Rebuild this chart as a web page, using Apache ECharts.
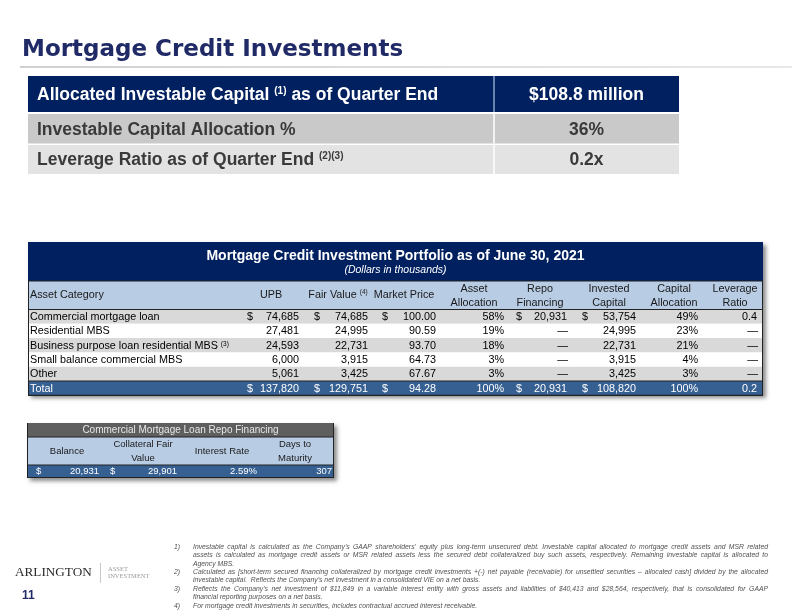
<!DOCTYPE html>
<html>
<head>
<meta charset="utf-8">
<script src="https://cdn.jsdelivr.net/npm/echarts@6/dist/echarts.min.js"></script>
<style>
  html, body { margin: 0; padding: 0; background: #fff; }
  #chart { width: 792px; height: 612px; }
</style>
</head>
<body>
<div id="chart"></div>
<script>
// ---- data ----
const pageTitle = 'Mortgage Credit Investments'

const summaryLabels = [
  'Allocated Investable Capital {s|(1)} as of Quarter End',
  'Investable Capital Allocation %',
  'Leverage Ratio as of Quarter End {s|(2)(3)}'
]
const summaryValues = ['$108.8 million', '36%', '0.2x']

const portfolioTitle = 'Mortgage Credit Investment Portfolio as of June 30, 2021'
const portfolioSubtitle = '(Dollars in thousands)'
const portfolioColumns = ['Asset Category', 'UPB', 'Fair Value {s|(4)}', 'Market Price', 'Asset\nAllocation',
  'Repo\nFinancing', 'Invested\nCapital', 'Capital\nAllocation', 'Leverage\nRatio']
const assetCategories = ['Commercial mortgage loan', 'Residential MBS', 'Business purpose loan residential MBS {s|(3)}',
  'Small balance commercial MBS', 'Other', 'Total']
const upb = [74685, 27481, 24593, 6000, 5061, 137820]
const fairValue = [74685, 24995, 22731, 3915, 3425, 129751]
const marketPrice = [100.00, 90.59, 93.70, 64.73, 67.67, 94.28]
const assetAllocation = [58, 19, 18, 3, 3, 100]
const repoFinancing = [20931, null, null, null, null, 20931]
const investedCapital = [53754, 24995, 22731, 3915, 3425, 108820]
const capitalAllocation = [49, 23, 21, 4, 3, 100]
const leverageRatio = [0.4, null, null, null, null, 0.2]

const repoTitle = 'Commercial Mortgage Loan Repo Financing'
const repoColumns = ['Balance', 'Collateral Fair\nValue', 'Interest Rate', 'Days to\nMaturity']
const repoBalance = [20931]
const repoCollateral = [29901]
const repoRate = [2.59]
const repoDays = [307]

const footnoteNumbers = ['1)', '2)', '3)', '4)']
const footnoteLines = [
  ['Investable capital is calculated as the Company\u2019s GAAP shareholders\u2019 equity plus long-term unsecured debt. Investable capital allocated to mortgage credit assets and MSR related',
   'assets  is calculated as mortgage credit assets or MSR related assets less the secured debt collateralized buy such assets, respectively.  Remaining investable capital is allocated to',
   'Agency MBS.'],
  ['Calculated as [short-term secured financing collateralized by mortgage credit investments +(-) net payable (receivable) for unsettled securities \u2013 allocated cash] divided by the allocated',
   'investable capital.  Reflects the Company\u2019s net investment in a consolidated VIE on a net basis.'],
  ['Reflects the Company\u2019s net investment of $11,849 in a variable interest entity with gross assets and liabilities of $40,413 and $28,564, respectively, that is consolidated for GAAP',
   'financial reporting purposes on a net basis.'],
  ['For mortgage credit investments in securities, includes contractual accrued interest receivable.']
]

// ---- helpers ----
const FONT = '"Liberation Sans", Arial, sans-serif'
const NAVY = '#002060'
const LIGHT_BLUE = '#b8cce4'
const STEEL = '#366092'
const g = []

const fmt = (v, d) => v.toFixed(d || 0).replace(/\B(?=(\d{3})+(?!\d))/g, ',')

function rect(x, y, w, h, fill, style) {
  g.push({ type: 'rect', silent: true, shape: { x, y, width: w, height: h }, style: Object.assign({ fill }, style || {}) })
}
function line(x1, y1, x2, y2, stroke, lw) {
  g.push({ type: 'line', silent: true, shape: { x1, y1, x2, y2 }, style: { stroke, lineWidth: lw || 1 } })
}
function text(x, y, str, opt) {
  g.push({ type: 'text', silent: true, x, y, style: Object.assign({
    text: str, fontFamily: FONT, fontSize: 11, fill: '#000', align: 'left', verticalAlign: 'middle'
  }, opt || {}) })
}
const supRich = size => ({ s: { fontSize: size, verticalAlign: 'top', fontFamily: FONT } })
const shadow = { shadowBlur: 4, shadowOffsetX: 3, shadowOffsetY: 3, shadowColor: 'rgba(0,0,0,0.45)' }

// ---- page title ----
text(22, 50, pageTitle, { fontFamily: '"DejaVu Sans", Verdana, sans-serif', fontWeight: 'bold', fontSize: 23, fill: '#1f2a66' })
rect(20, 66, 772, 2, new echarts.graphic.LinearGradient(0, 0, 1, 0, [
  { offset: 0, color: '#d0d0d0' }, { offset: 1, color: '#e8e8e8' }]))

// ---- summary table ----
const sumX = 28, sumW = 651, sumDiv = 494
const sumRows = [[76, 36, NAVY, '#fff'], [114, 29.5, '#c9c9c9', '#3a3a3a'], [145, 29, '#e3e3e3', '#3a3a3a']]
sumRows.forEach(([y, h, fill, color], i) => {
  rect(sumX, y, sumW, h, fill)
  line(sumDiv, y, sumDiv, y + h, i === 0 ? '#8ea4c8' : '#fff', 1.5)
  text(37, y + h / 2 + 1, summaryLabels[i], { fontWeight: 'bold', fontSize: 17.5, fill: color, rich: { s: { fontSize: 10, fontWeight: 'bold', verticalAlign: 'top', fill: color, fontFamily: FONT } } })
  text((sumDiv + sumX + sumW) / 2, y + h / 2 + 1, summaryValues[i], { fontWeight: 'bold', fontSize: 17.5, fill: color, align: 'center' })
})

// ---- portfolio table ----
const pX = 28, pW = 735
const titleTop = 242, headTop = 281, headH = 28.5, rowTop = 309.5, rowH = 14.3
const nRows = assetCategories.length
const tableBottom = rowTop + rowH * nRows

rect(pX, titleTop, pW, tableBottom - titleTop, '#fff', shadow)
rect(pX, titleTop, pW, headTop - titleTop, NAVY)
text(pX + pW / 2, 256, portfolioTitle, { fontWeight: 'bold', fontSize: 14, fill: '#fff', align: 'center' })
text(pX + pW / 2, 270, portfolioSubtitle, { fontStyle: 'italic', fontSize: 10.5, fill: '#fff', align: 'center' })
rect(pX, headTop, pW, headH, LIGHT_BLUE)

// column layout: dollar sign x, right edge, header centre
const cols = [
  { left: 30 },
  { dollar: 247, right: 299, head: 271, values: upb, f: v => fmt(v) },
  { dollar: 314, right: 368, head: 338, values: fairValue, f: v => fmt(v) },
  { dollar: 382, right: 436, head: 404, values: marketPrice, f: v => fmt(v, 2) },
  { right: 504, head: 474, values: assetAllocation, f: v => v + '%' },
  { dollar: 516, right: 567, head: 540, values: repoFinancing, f: v => fmt(v) },
  { dollar: 582, right: 636, head: 609, values: investedCapital, f: v => fmt(v) },
  { right: 698, head: 674, values: capitalAllocation, f: v => v + '%' },
  { right: 757, head: 735, values: leverageRatio, f: v => v.toFixed(1) }
]
const BODY = 10.8

cols.forEach((c, j) => {
  const label = portfolioColumns[j]
  const opt = { fontSize: BODY, fill: '#1a1a1a', rich: supRich(6.5) }
  if (j === 0) text(30, headTop + headH / 2, label, opt)
  else text(c.head, headTop + headH / 2 + (label.includes('\n') ? 0.5 : 0), label, Object.assign(opt, { align: 'center', lineHeight: 14 }))
})

for (let i = 0; i < nRows; i++) {
  const y = rowTop + rowH * i
  const isTotal = i === nRows - 1
  const fill = isTotal ? STEEL : (i % 2 === 0 ? '#d9d9d9' : '#fff')
  rect(pX, y, pW, rowH, fill)
  const color = isTotal ? '#fff' : '#000'
  const cy = y + rowH / 2 + 0.5
  text(30, cy, assetCategories[i], { fontSize: BODY, fill: color, rich: supRich(6.5) })
  const showDollar = i === 0 || isTotal
  cols.slice(1).forEach(c => {
    const v = c.values[i]
    if (v === null) {
      text(c.right + 1, cy, '\u2014', { fontSize: BODY, fill: color, align: 'right' })
      return
    }
    if (c.dollar && showDollar) text(c.dollar, cy, '$', { fontSize: BODY, fill: color })
    text(c.right, cy, c.f(v), { fontSize: BODY, fill: color, align: 'right' })
  })
}
// table rules
line(pX, rowTop, pX + pW, rowTop, '#222', 1.2)
line(pX, rowTop + rowH * (nRows - 1), pX + pW, rowTop + rowH * (nRows - 1), '#222', 1.2)
line(pX, tableBottom, pX + pW, tableBottom, '#222', 1.2)
line(pX, headTop, pX + pW, headTop, '#222', 1)
line(pX + 0.5, headTop, pX + 0.5, tableBottom, '#222', 1)
line(pX + pW - 0.5, headTop, pX + pW - 0.5, tableBottom, '#222', 1)

// ---- repo financing table ----
const rX = 27, rW = 307
const rTitleTop = 423, rHeadTop = 437, rHeadH = 28, rDataH = 12.5
const rBottom = rHeadTop + rHeadH + rDataH
rect(rX, rTitleTop, rW, rBottom - rTitleTop, '#fff', shadow)
rect(rX, rTitleTop, rW, rHeadTop - rTitleTop, '#5f5f5f')
text(rX + rW / 2, (rTitleTop + rHeadTop) / 2 + 0.5, repoTitle, { fontSize: 10, fill: '#e8e8e8', align: 'center' })
rect(rX, rHeadTop, rW, rHeadH, LIGHT_BLUE)
rect(rX, rHeadTop + rHeadH, rW, rDataH, STEEL)
line(rX, rHeadTop, rX + rW, rHeadTop, '#222', 1)
line(rX, rHeadTop + rHeadH, rX + rW, rHeadTop + rHeadH, '#222', 1)
line(rX, rBottom, rX + rW, rBottom, '#222', 1)
line(rX + 0.5, rTitleTop, rX + 0.5, rBottom, '#222', 1)
line(rX + rW - 0.5, rTitleTop, rX + rW - 0.5, rBottom, '#222', 1)

const repoCols = [
  { dollar: 36, right: 99, head: 67, values: repoBalance, f: v => fmt(v) },
  { dollar: 110, right: 177, head: 143, values: repoCollateral, f: v => fmt(v) },
  { right: 257, head: 222, values: repoRate, f: v => v.toFixed(2) + '%' },
  { right: 332, head: 295, values: repoDays, f: v => String(v) }
]
repoCols.forEach((c, j) => {
  text(c.head, rHeadTop + rHeadH / 2 + 0.5, repoColumns[j], { fontSize: 9.5, fill: '#1a1a1a', align: 'center', lineHeight: 14 })
  const cy = rHeadTop + rHeadH + rDataH / 2 + 0.5
  if (c.dollar) text(c.dollar, cy, '$', { fontSize: 9.5, fill: '#fff' })
  text(c.right, cy, c.f(c.values[0]), { fontSize: 9.5, fill: '#fff', align: 'right' })
})

// ---- footnotes ----
const noteFont = { fontStyle: 'italic', fontSize: 6.8, fill: '#505050' }
const noteLeft = 193, noteRight = 768, noteStep = 8.4
const measure = document.createElement('canvas').getContext('2d')
measure.font = 'italic 6.8px ' + FONT
let ny = 547
footnoteLines.forEach((lines, k) => {
  text(174, ny, footnoteNumbers[k], noteFont)
  lines.forEach((ln, li) => {
    const last = li === lines.length - 1
    if (last) {
      text(noteLeft, ny, ln, noteFont)
    } else {
      const words = ln.split(/\s+/)
      const wsum = words.reduce((a, w) => a + measure.measureText(w).width, 0)
      const gap = (noteRight - noteLeft - wsum) / (words.length - 1)
      let x = noteLeft
      words.forEach(w => { text(x, ny, w, noteFont); x += measure.measureText(w).width + gap })
    }
    ny += noteStep
  })
})

// ---- logo / page number ----
text(15, 573, 'ARLINGTON', { fontFamily: '"Liberation Serif", serif', fontSize: 13.2, fill: '#2a2a2a' })
line(100.5, 563, 100.5, 583, '#c8c8c8', 1)
text(108, 569.5, 'ASSET', { fontFamily: '"Liberation Serif", serif', fontSize: 6.5, fill: '#9a9a9a' })
text(108, 576, 'INVESTMENT', { fontFamily: '"Liberation Serif", serif', fontSize: 6.5, fill: '#9a9a9a' })
text(22, 596, '11', { fontWeight: 'bold', fontSize: 12, fill: '#1f2a66' })

const chart = echarts.init(document.getElementById('chart'))
chart.setOption({ animation: false, graphic: { elements: g } })
</script>
</body>
</html>
